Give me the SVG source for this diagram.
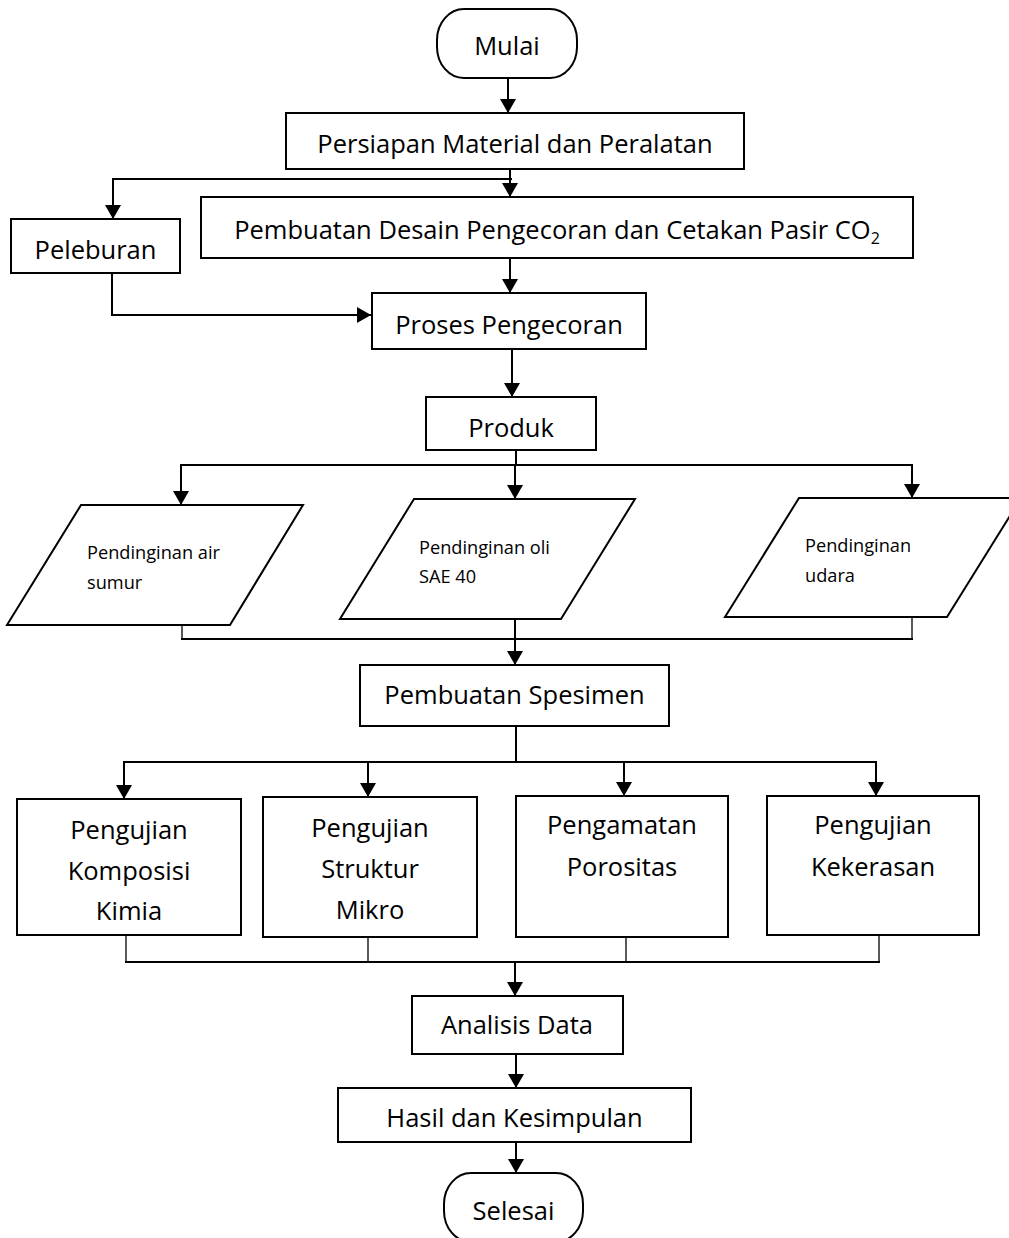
<svg xmlns="http://www.w3.org/2000/svg" width="1009" height="1238" viewBox="0 0 1009 1238">
<defs>
<style>
.box{fill:#fff;stroke:#000;stroke-width:2}
.ln{fill:none;stroke:#000;stroke-width:2}
.thin{fill:none;stroke:#000;stroke-width:1.3}
.t{font-family:"Open Sans","Noto Sans",sans-serif;font-size:25.5px;fill:#000;text-anchor:middle}
.s{font-family:"Open Sans","Noto Sans",sans-serif;font-size:18.2px;fill:#000}
</style>
<marker id="ah" markerUnits="userSpaceOnUse" markerWidth="16" markerHeight="16" refX="14" refY="8" orient="auto">
<path d="M0,0 L14,8 L0,16 Z" fill="#000"/>
</marker>
</defs>
<rect width="1009" height="1238" fill="#fff"/>
<g id="connectors">
<path class="ln" d="M508,78 V113" marker-end="url(#ah)"/>
<path class="ln" d="M510,169 V197" marker-end="url(#ah)"/>
<path class="ln" d="M512,179 H113 V219" marker-end="url(#ah)"/>
<path class="ln" d="M510,258 V293" marker-end="url(#ah)"/>
<path class="ln" d="M112,273 V315 H371" marker-end="url(#ah)"/>
<path class="ln" d="M512,349 V397" marker-end="url(#ah)"/>
<path class="ln" d="M516,450 V465"/>
<path class="ln" d="M180,465 H913"/>
<path class="ln" d="M181,464 V505" marker-end="url(#ah)"/>
<path class="ln" d="M515,464 V499" marker-end="url(#ah)"/>
<path class="ln" d="M912,464 V498" marker-end="url(#ah)"/>
<path class="thin" d="M182,625 V639"/>
<path class="thin" d="M912,617 V639"/>
<path class="ln" d="M181,639 H913"/>
<path class="ln" d="M515,617 V665" marker-end="url(#ah)"/>
<path class="ln" d="M516,726 V762"/>
<path class="ln" d="M123,762 H877"/>
<path class="ln" d="M124,761 V799" marker-end="url(#ah)"/>
<path class="ln" d="M368,761 V797" marker-end="url(#ah)"/>
<path class="ln" d="M624,761 V796" marker-end="url(#ah)"/>
<path class="ln" d="M876,761 V796" marker-end="url(#ah)"/>
<path class="thin" d="M126,935 V962"/>
<path class="thin" d="M368,937 V962"/>
<path class="thin" d="M626,937 V962"/>
<path class="thin" d="M879,935 V962"/>
<path class="ln" d="M125,962 H880"/>
<path class="ln" d="M515,962 V996" marker-end="url(#ah)"/>
<path class="ln" d="M516,1054 V1088" marker-end="url(#ah)"/>
<path class="ln" d="M516,1142 V1173" marker-end="url(#ah)"/>
</g>
<g id="mulai">
<rect class="box" x="437" y="9" width="140" height="69" rx="27" ry="31"/>
<text class="t" x="507" y="55">Mulai</text>
</g>
<g id="persiapan">
<rect class="box" x="286" y="113" width="458" height="56"/>
<text class="t" x="515" y="153">Persiapan Material dan Peralatan</text>
</g>
<g id="desain">
<rect class="box" x="201" y="197" width="712" height="61"/>
<text class="t" x="557" y="239">Pembuatan Desain Pengecoran dan Cetakan Pasir CO<tspan font-size="16" dy="5">2</tspan></text>
</g>
<g id="peleburan">
<rect class="box" x="11" y="219" width="169" height="54"/>
<text class="t" x="95.5" y="259">Peleburan</text>
</g>
<g id="proses">
<rect class="box" x="372" y="293" width="274" height="56"/>
<text class="t" x="509" y="334">Proses Pengecoran</text>
</g>
<g id="produk">
<rect class="box" x="426" y="397" width="170" height="53"/>
<text class="t" x="511" y="437">Produk</text>
</g>
<g id="air">
<polygon class="box" points="81,505 303,505 230,625 7,625"/>
<text class="s" x="87" y="559">Pendinginan air</text>
<text class="s" x="87" y="589">sumur</text>
</g>
<g id="oli">
<polygon class="box" points="414,499 635,499 561,619 340,619"/>
<text class="s" x="419" y="554">Pendinginan oli</text>
<text class="s" x="419" y="583">SAE 40</text>
</g>
<g id="udara">
<polygon class="box" points="799,498 1021,498 947,617 725,617"/>
<text class="s" x="805" y="552">Pendinginan</text>
<text class="s" x="805" y="582">udara</text>
</g>
<g id="spesimen">
<rect class="box" x="360" y="665" width="309" height="61"/>
<text class="t" x="514.5" y="704">Pembuatan Spesimen</text>
</g>
<g id="komposisi">
<rect class="box" x="17" y="799" width="224" height="136"/>
<text class="t" x="129" y="839">Pengujian</text>
<text class="t" x="129" y="880">Komposisi</text>
<text class="t" x="129" y="920">Kimia</text>
</g>
<g id="struktur">
<rect class="box" x="263" y="797" width="214" height="140"/>
<text class="t" x="370" y="837">Pengujian</text>
<text class="t" x="370" y="878">Struktur</text>
<text class="t" x="370" y="919">Mikro</text>
</g>
<g id="porositas">
<rect class="box" x="516" y="796" width="212" height="141"/>
<text class="t" x="622" y="834">Pengamatan</text>
<text class="t" x="622" y="876">Porositas</text>
</g>
<g id="kekerasan">
<rect class="box" x="767" y="796" width="212" height="139"/>
<text class="t" x="873" y="834">Pengujian</text>
<text class="t" x="873" y="876">Kekerasan</text>
</g>
<g id="analisis">
<rect class="box" x="412" y="996" width="211" height="58"/>
<text class="t" x="517" y="1034">Analisis Data</text>
</g>
<g id="hasil">
<rect class="box" x="338" y="1088" width="353" height="54"/>
<text class="t" x="514.5" y="1127">Hasil dan Kesimpulan</text>
</g>
<g id="selesai">
<rect class="box" x="444" y="1173" width="139" height="69" rx="27" ry="31"/>
<text class="t" x="513.5" y="1220">Selesai</text>
</g>
</svg>
